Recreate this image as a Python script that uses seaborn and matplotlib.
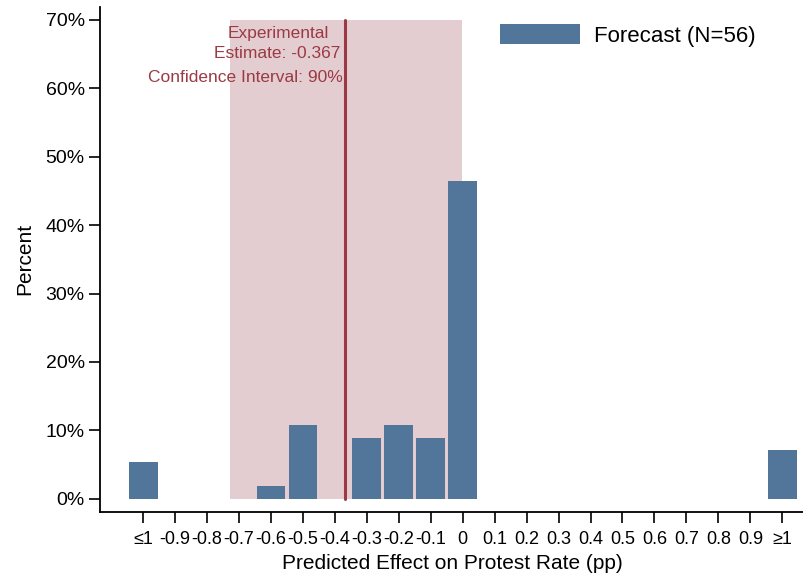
import numpy as np
import pandas as pd
import matplotlib
matplotlib.use("Agg")
import matplotlib.pyplot as plt
import seaborn as sns

# --- Data ---
bins = [-1.0, -0.9, -0.8, -0.7, -0.6, -0.5, -0.4, -0.3, -0.2, -0.1, 0.0,
        0.1, 0.2, 0.3, 0.4, 0.5, 0.6, 0.7, 0.8, 0.9, 1.0]
tick_labels = ["≤1", "-0.9", "-0.8", "-0.7", "-0.6", "-0.5", "-0.4", "-0.3", "-0.2", "-0.1", "0",
               "0.1", "0.2", "0.3", "0.4", "0.5", "0.6", "0.7", "0.8", "0.9", "≥1"]
percent = [5.36, 0, 0, 0, 1.79, 10.71, 0, 8.93, 10.71, 8.93, 46.43,
           0, 0, 0, 0, 0, 0, 0, 0, 0, 7.14]
estimate = -0.367
ci_low, ci_high = -0.727, -0.003
ci_top = 70

BAR_COLOR = "#52759A"
SHADE_COLOR = "#E3CDD0"
RED = "#9B3A45"

sns.set_style("white")
plt.rcParams['font.family'] = ['Liberation Sans', 'DejaVu Sans']
plt.rcParams['text.color'] = 'black'
plt.rcParams['axes.labelcolor'] = 'black'

df = pd.DataFrame({"bin": bins, "percent": percent})
df = df[df["percent"] > 0]

fig = plt.figure(figsize=(8.04, 5.76), dpi=100)
ax = fig.add_axes([100 / 804, 64.3 / 576, 704 / 804, 504.7 / 576])

# confidence interval shading
ax.fill_between([ci_low, ci_high], 0, ci_top, color=SHADE_COLOR, lw=0, zorder=0)

sns.barplot(data=df, x="bin", y="percent", native_scale=True, width=0.9,
            color=BAR_COLOR, saturation=1, linewidth=0, ax=ax, zorder=2,
            label="Forecast (N=56)")

ax.plot([estimate, estimate], [0, ci_top], color=RED, lw=2.2, zorder=3)

# annotation
ax.text(estimate - 0.21, 67.4, "Experimental", color=RED, fontsize=12.5,
        ha="center", va="baseline")
ax.text(estimate - 0.015, 64.4, "Estimate: -0.367", color=RED, fontsize=12.5,
        ha="right", va="baseline")
ax.text(estimate - 0.009, 60.9, "Confidence Interval: 90%", color=RED, fontsize=12.5,
        ha="right", va="baseline")

ax.set_xlim(-1.135, 1.068)
ax.set_ylim(-1.9, 71.9)
ax.set_xticks(bins)
ax.set_xticklabels(tick_labels)
ax.set_yticks(range(0, 71, 10))
ax.set_yticklabels([f"{v}%" for v in range(0, 71, 10)])
ax.tick_params(axis="both", length=8, width=1.2, direction="out",
               color="black", labelcolor="black", bottom=True, left=True)
ax.tick_params(axis="x", labelsize=13, pad=6)
ax.tick_params(axis="y", labelsize=14, pad=3)

ax.set_xlabel("Predicted Effect on Protest Rate (pp)", fontsize=15, labelpad=4)
ax.set_ylabel("Percent", fontsize=15, labelpad=8)

for side in ["top", "right"]:
    ax.spines[side].set_visible(False)
for side in ["left", "bottom"]:
    ax.spines[side].set_color("black")
    ax.spines[side].set_linewidth(1.3)

ax.legend(loc="upper left", bbox_to_anchor=(500 / 804, 1 - 24 / 576),
          bbox_transform=fig.transFigure, frameon=False, fontsize=16,
          handlelength=3.6, handleheight=1.04, handletextpad=0.63,
          borderpad=0, borderaxespad=0)

fig.savefig("out.png", dpi=100)
